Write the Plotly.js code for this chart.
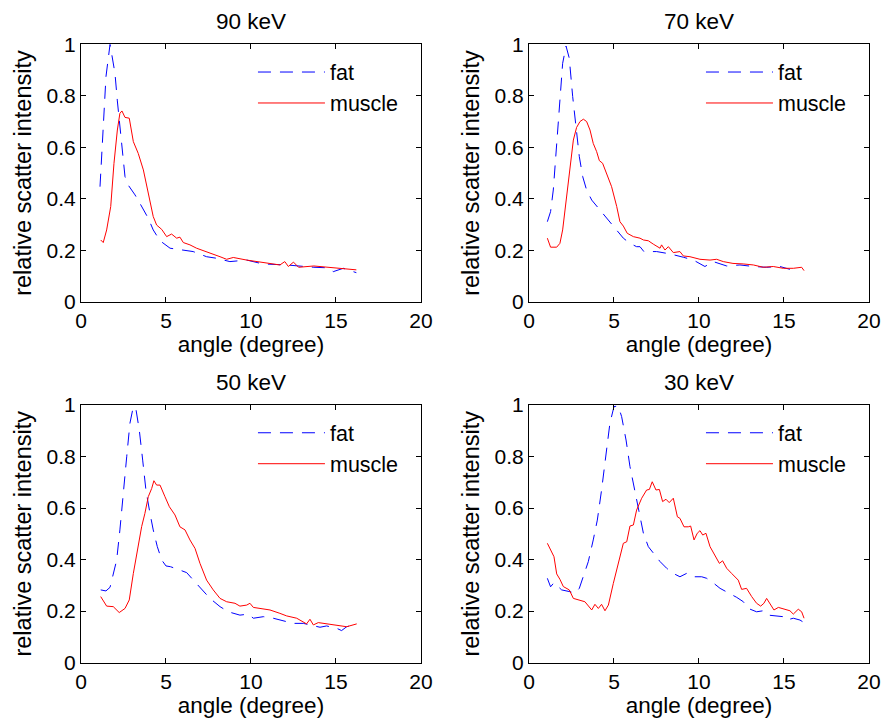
<!DOCTYPE html>
<html>
<head>
<meta charset="utf-8">
<script src="https://cdn.plot.ly/plotly-3.0.1.min.js"></script>
<style>html,body{margin:0;padding:0;background:#fff;}#chart{width:884px;height:727px;}</style>
</head>
<body>
<div id="chart"></div>
<script>
// ---- data ----
const panelTitles = ['90 keV', '70 keV', '50 keV', '30 keV'];
const seriesNames = ['fat', 'muscle'];
const xTickVals = [0, 5, 10, 15, 20];
const yTickVals = [0, 0.2, 0.4, 0.6, 0.8, 1];
const yTickText = ['0', '0.2', '0.4', '0.6', '0.8', '1'];

// 90 keV
const fat90_x = [1.12,1.47,1.71,2.0,2.14,2.39,2.59,2.78,3.18,3.47,3.96,4.25,4.65,5.24,6.02,6.6,7.39,7.98,8.76,9.75,10.7,12.1,13.7,14.5,14.84,15.43,16.2];
const fat90_y = [0.447,0.874,1.0,0.887,0.78,0.615,0.486,0.453,0.415,0.382,0.324,0.279,0.237,0.208,0.201,0.195,0.175,0.169,0.156,0.162,0.147,0.143,0.134,0.132,0.117,0.13,0.113];
const mus90_x = [1.16,1.31,1.51,1.75,1.94,2.14,2.29,2.41,2.59,2.84,3.08,3.37,3.67,3.96,4.25,4.45,4.75,5.04,5.33,5.63,5.82,6.02,6.41,6.8,7.39,7.78,8.18,8.57,8.96,9.75,10.7,11.7,11.99,12.2,12.5,12.8,13.7,14.65,15.43,16.2];
const mus90_y = [0.24,0.23,0.279,0.37,0.537,0.667,0.732,0.741,0.716,0.713,0.622,0.576,0.512,0.421,0.331,0.298,0.281,0.253,0.263,0.247,0.251,0.23,0.221,0.208,0.195,0.186,0.175,0.165,0.172,0.162,0.152,0.143,0.156,0.137,0.154,0.134,0.139,0.134,0.13,0.124];

// 70 keV
const fat70_x = [1.08,1.27,1.43,1.63,1.82,1.98,2.18,2.37,2.57,2.76,2.96,3.16,3.39,3.69,4.18,4.67,5.16,5.55,5.94,6.33,6.53,6.76,7.51,8.29,9.08,9.67,10.35,10.84,11.63,12.41,13.2,13.98,14.76,15.35];
const fat70_y = [0.311,0.35,0.434,0.603,0.784,0.926,0.993,0.946,0.797,0.68,0.564,0.486,0.434,0.395,0.356,0.318,0.279,0.247,0.227,0.214,0.214,0.195,0.195,0.186,0.173,0.162,0.137,0.156,0.139,0.143,0.137,0.134,0.137,0.126];
const mus70_x = [1.08,1.27,1.63,1.82,1.98,2.18,2.41,2.61,2.8,3.0,3.2,3.39,3.59,3.78,3.98,4.14,4.33,4.57,4.86,5.16,5.35,5.55,5.78,6.14,6.53,6.73,7.02,7.31,7.71,7.8,8.0,8.2,8.49,8.88,9.08,9.47,10.06,10.65,11.04,11.43,12.0,12.6,13.2,13.78,14.37,14.96,15.55,16.04,16.18];
const mus70_y = [0.247,0.212,0.212,0.227,0.279,0.383,0.512,0.628,0.677,0.7,0.709,0.7,0.667,0.615,0.583,0.548,0.538,0.499,0.447,0.37,0.311,0.294,0.266,0.253,0.247,0.24,0.237,0.224,0.208,0.221,0.201,0.214,0.191,0.195,0.178,0.175,0.165,0.162,0.165,0.156,0.149,0.147,0.143,0.134,0.137,0.13,0.13,0.134,0.121];

// 50 keV
const fat50_x = [1.16,1.47,1.71,1.9,2.1,2.29,2.49,2.69,2.88,3.08,3.24,3.43,3.63,3.82,4.06,4.25,4.49,4.75,5.0,5.27,5.82,6.22,6.61,7.1,7.59,8.18,8.67,9.35,9.84,10.14,10.73,11.31,11.7,12.49,13.08,13.67,14.06,14.45,15.04,15.33,15.63,16.02];
const fat50_y = [0.282,0.278,0.292,0.346,0.398,0.515,0.644,0.799,0.929,0.994,0.981,0.903,0.786,0.67,0.579,0.515,0.45,0.398,0.375,0.372,0.359,0.349,0.32,0.284,0.249,0.217,0.197,0.184,0.188,0.172,0.178,0.172,0.165,0.152,0.152,0.142,0.137,0.142,0.133,0.124,0.139,0.146];
const mus50_x = [1.16,1.51,1.9,2.25,2.59,2.84,3.08,3.31,3.57,3.76,3.96,4.16,4.29,4.45,4.65,4.94,5.2,5.53,5.82,6.12,6.41,6.71,7.0,7.39,7.78,8.18,8.57,9.06,9.35,9.75,9.94,10.14,10.63,11.12,11.7,12.1,12.69,13.08,13.27,13.47,13.67,13.96,14.45,15.04,15.63,16.22];
const mus50_y = [0.256,0.219,0.217,0.194,0.21,0.243,0.346,0.437,0.528,0.579,0.644,0.676,0.706,0.689,0.689,0.644,0.605,0.573,0.527,0.515,0.476,0.443,0.385,0.32,0.282,0.249,0.236,0.23,0.219,0.223,0.23,0.214,0.21,0.204,0.191,0.181,0.172,0.159,0.15,0.168,0.146,0.155,0.15,0.146,0.139,0.15];

// 30 keV
const fat30_x = [1.08,1.27,1.47,1.92,2.41,2.71,2.96,3.2,3.49,3.78,4.02,4.27,4.53,4.76,5.0,5.25,5.45,5.71,5.94,6.24,6.49,6.73,7.02,7.31,7.71,8.1,8.49,8.88,9.27,9.57,10.16,10.45,10.75,11.24,11.82,12.22,12.61,12.9,13.39,13.78,14.08,14.57,14.96,15.16,15.55,15.94,16.18];
const fat30_y = [0.327,0.294,0.31,0.282,0.275,0.269,0.288,0.333,0.392,0.476,0.553,0.67,0.812,0.929,0.994,0.996,0.955,0.864,0.761,0.657,0.579,0.502,0.45,0.424,0.392,0.366,0.346,0.333,0.346,0.333,0.333,0.327,0.314,0.288,0.269,0.253,0.236,0.21,0.197,0.201,0.184,0.181,0.178,0.165,0.172,0.165,0.155];
const mus30_x = [1.08,1.27,1.47,1.63,1.82,2.02,2.37,2.61,3.0,3.29,3.69,3.88,4.08,4.27,4.47,4.67,4.96,5.25,5.55,5.75,5.94,6.14,6.33,6.63,6.92,7.08,7.25,7.47,7.67,7.86,8.06,8.25,8.49,8.73,8.88,9.12,9.37,9.51,9.71,9.9,10.06,10.22,10.41,10.65,10.94,11.2,11.39,11.63,11.92,12.31,12.51,12.8,13.1,13.39,13.63,13.82,13.98,14.18,14.41,14.67,15.06,15.35,15.55,15.84,16.04,16.18];
const mus30_y = [0.463,0.437,0.411,0.344,0.323,0.295,0.282,0.249,0.243,0.236,0.204,0.226,0.21,0.226,0.201,0.223,0.307,0.385,0.463,0.469,0.53,0.534,0.592,0.638,0.67,0.672,0.702,0.67,0.672,0.625,0.634,0.621,0.638,0.566,0.56,0.527,0.527,0.53,0.476,0.502,0.512,0.495,0.502,0.45,0.417,0.385,0.395,0.366,0.346,0.32,0.284,0.288,0.256,0.23,0.219,0.23,0.249,0.23,0.204,0.214,0.207,0.201,0.188,0.207,0.197,0.172];

const fatX = [fat90_x, fat70_x, fat50_x, fat30_x];
const fatY = [fat90_y, fat70_y, fat50_y, fat30_y];
const musX = [mus90_x, mus70_x, mus50_x, mus30_x];
const musY = [mus90_y, mus70_y, mus50_y, mus30_y];

// ---- layout ----
const FONT = 'Liberation Sans, Arial, Helvetica, sans-serif';
const TICK_FS = 21;
const TITLE_FS = 22.5;
const YTITLE_FS = 23.5;
const LEG_FS = 21.5;
const xDomains = [[0.0916, 0.4762], [0.5984, 0.9830], [0.0916, 0.4762], [0.5984, 0.9830]];
const yDomains = [[0.5849, 0.9391], [0.5849, 0.9391], [0.0887, 0.4429], [0.0887, 0.4429]];

const traces = [];
const layout = {
  width: 884, height: 727,
  margin: {l: 0, r: 0, t: 0, b: 0},
  paper_bgcolor: '#fff', plot_bgcolor: '#fff',
  font: {family: FONT, size: TICK_FS, color: '#000'},
  showlegend: true,
  annotations: []
};

for (let i = 0; i < 4; i++) {
  const sfx = i === 0 ? '' : String(i + 1);
  const lg = i === 0 ? 'legend' : 'legend' + (i + 1);
  traces.push({
    x: fatX[i], y: fatY[i], name: seriesNames[0], type: 'scatter', mode: 'lines',
    xaxis: 'x' + sfx, yaxis: 'y' + sfx, legend: lg,
    line: {color: '#0000ff', width: 1, dash: '13px,9px'}
  });
  traces.push({
    x: musX[i], y: musY[i], name: seriesNames[1], type: 'scatter', mode: 'lines',
    xaxis: 'x' + sfx, yaxis: 'y' + sfx, legend: lg,
    line: {color: '#ff0000', width: 1}
  });
  layout['xaxis' + sfx] = {
    domain: xDomains[i], anchor: 'y' + sfx, range: [0, 20],
    tickmode: 'array', tickvals: xTickVals,
    ticks: 'inside', ticklen: 5, tickcolor: '#000', tickwidth: 1,
    showline: true, mirror: 'allticks', linecolor: '#000', linewidth: 1,
    showgrid: false, zeroline: false,
    tickfont: {family: FONT, size: TICK_FS, color: '#000'},
    title: {text: 'angle (degree)', font: {family: FONT, size: TITLE_FS, color: '#000'}, standoff: 2}
  };
  layout['yaxis' + sfx] = {
    domain: yDomains[i], anchor: 'x' + sfx, range: [0, 1],
    tickmode: 'array', tickvals: yTickVals, ticktext: yTickText,
    ticks: 'inside', ticklen: 5, tickcolor: '#000', tickwidth: 1,
    showline: true, mirror: 'allticks', linecolor: '#000', linewidth: 1,
    showgrid: false, zeroline: false,
    tickfont: {family: FONT, size: TICK_FS, color: '#000'},
    title: {text: 'relative scatter intensity', font: {family: FONT, size: YTITLE_FS, color: '#000'}, standoff: 8}
  };
  const xd = xDomains[i], yd = yDomains[i];
  layout[lg] = {
    x: xd[0] + (xd[1] - xd[0]) * 0.5 + 2 / 884, y: yd[1] - 0.010,
    xanchor: 'left', yanchor: 'top',
    bgcolor: 'rgba(0,0,0,0)', borderwidth: 0,
    itemwidth: 67, tracegroupgap: 0,
    font: {family: FONT, size: LEG_FS, color: '#000'}
  };
  layout.annotations.push({
    text: panelTitles[i], xref: 'paper', yref: 'paper',
    x: (xd[0] + xd[1]) / 2, y: yd[1], xanchor: 'center', yanchor: 'bottom',
    yshift: 8, showarrow: false,
    font: {family: FONT, size: TITLE_FS, color: '#000'}
  });
}

Plotly.newPlot('chart', traces, layout, {displayModeBar: false, staticPlot: true});
</script>
</body>
</html>
